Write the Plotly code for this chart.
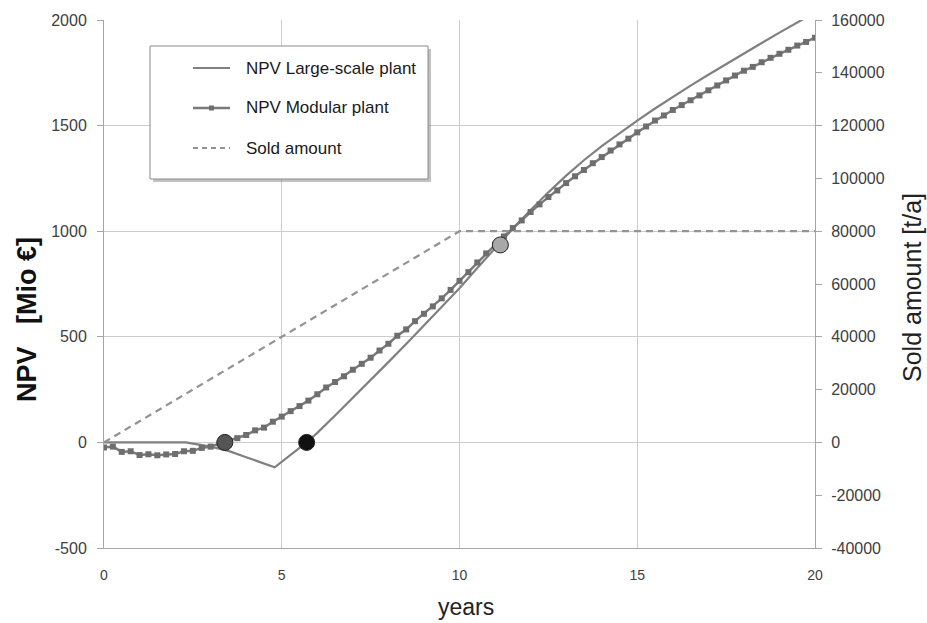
import plotly.graph_objects as go

# --- data -------------------------------------------------------------
# NPV of the modular plant, quarterly from year 0 to year 20 [Mio €]
modular_years = [i * 0.25 for i in range(81)]
modular_npv = [
    -24, -20, -45, -42, -60, -56, -61, -57, -55, -42, -40, -26,
    -20, -5, 8, 20, 35, 57, 70, 98, 122, 148, 172, 198,
    228, 260, 286, 313, 344, 372, 401, 435, 467, 505, 535, 574,
    609, 644, 682, 722, 765, 806, 852, 895, 935, 975, 1015, 1051,
    1091, 1127, 1162, 1193, 1228, 1260, 1290, 1322, 1351, 1382, 1411, 1438,
    1468, 1496, 1524, 1548, 1574, 1597, 1620, 1643, 1667, 1690, 1714, 1737,
    1760, 1778, 1800, 1821, 1840, 1859, 1879, 1896, 1916,
]

# NPV of the large-scale plant [Mio €]
large_years = [0, 2.3, 3.0, 3.5, 4.0, 4.5, 4.8, 5.7, 6.0, 6.5, 7.0, 7.5, 8.0,
               8.5, 9.0, 9.5, 10.0, 10.5, 11.0, 11.5, 12.0, 12.5, 13.0, 13.5,
               14.0, 14.5, 15.0, 15.5, 16.0, 16.5, 17.0, 17.5, 18.0, 18.5,
               19.0, 19.5, 20.0]
large_npv = [0, 0, -20, -40, -70, -98, -118, 0, 45, 127, 210, 295, 380,
             466, 553, 641, 730, 826, 920, 1012, 1100, 1184, 1263, 1336,
             1403, 1465, 1524, 1581, 1636, 1689, 1741, 1792, 1842, 1891,
             1940, 1988, 2036]

# Sold amount [t/a]
sold_years = [0, 10, 20]
sold_amount = [0, 80000, 80000]

# Highlighted points (break-even / intersection)
point_years = [3.4, 5.7, 11.15]
point_npv = [0, 0, 935]
point_colors = ["#555555", "#111111", "#a8a8a8"]

legend_labels = ["NPV Large-scale plant", "NPV Modular plant", "Sold amount"]

x_ticks = [0, 5, 10, 15, 20]
y_ticks = [-500, 0, 500, 1000, 1500, 2000]
y2_ticks = list(range(-40000, 160001, 20000))

# --- layout geometry (pixels) ----------------------------------------
W, H = 927, 623
ML, MR, MT, MB = 104, 112, 20, 75
PW, PH = W - ML - MR, H - MT - MB


def px(x):
    return (x - ML) / PW


def py(y):
    return (H - MB - y) / PH


FONT = "Liberation Sans, Arial, sans-serif"
LINE = "#808080"
GRID = "#cccccc"
AXIS = "#a6a6a6"
TICKFONT = dict(family=FONT, size=16, color="#404040")

fig = go.Figure()

fig.add_trace(go.Scatter(
    x=sold_years, y=sold_amount, yaxis="y2", mode="lines",
    line=dict(color="#939393", width=2.2, dash="7px,5px"),
    name=legend_labels[2], showlegend=False))

fig.add_trace(go.Scatter(
    x=large_years, y=large_npv, mode="lines",
    line=dict(color=LINE, width=2.2),
    name=legend_labels[0], showlegend=False))

fig.add_trace(go.Scatter(
    x=modular_years, y=modular_npv, mode="lines+markers",
    line=dict(color="#7a7a7a", width=2.5),
    marker=dict(symbol="square", size=6, color="#6e6e6e"),
    name=legend_labels[1], showlegend=False))

fig.add_trace(go.Scatter(
    x=point_years, y=point_npv, mode="markers",
    marker=dict(size=16, color=point_colors,
                line=dict(color="#222222", width=1)),
    showlegend=False, hoverinfo="skip"))

fig.update_layout(
    width=W, height=H,
    margin=dict(l=ML, r=MR, t=MT, b=MB, pad=0),
    paper_bgcolor="white", plot_bgcolor="white",
    font=dict(family=FONT, color="#222222"),
    xaxis=dict(
        range=[0, 20], tickvals=x_ticks, showgrid=True, gridcolor=GRID,
        gridwidth=1, showline=True, linecolor=AXIS, linewidth=1,
        zeroline=False, ticks="", ticklabelstandoff=14,
        tickfont=dict(family=FONT, size=14, color="#404040"),
    ),
    yaxis=dict(
        range=[-500, 2000], tickvals=y_ticks,
        ticktext=[str(v) for v in y_ticks],
        showgrid=True, gridcolor=GRID,
        gridwidth=1, showline=True, linecolor=AXIS, linewidth=1,
        zeroline=False, ticks="outside", ticklen=6, tickcolor=AXIS,
        ticklabelstandoff=7, tickfont=TICKFONT,
    ),
    yaxis2=dict(
        range=[-40000, 160000], tickvals=y2_ticks,
        ticktext=[str(v) for v in y2_ticks], overlaying="y",
        side="right", showgrid=False, showline=True, linecolor=AXIS,
        linewidth=1, zeroline=False, ticks="outside", ticklen=6,
        tickcolor=AXIS, ticklabelstandoff=6, tickfont=TICKFONT,
    ),
)

# --- axis titles -----------------------------------------------------
annotations = [
    dict(xref="paper", yref="paper", x=px(466), y=py(607),
         xanchor="center", yanchor="middle", showarrow=False,
         text="years", font=dict(family=FONT, size=23, color="#222222")),
    dict(xref="paper", yref="paper", x=px(27), y=py(320),
         xanchor="center", yanchor="middle", showarrow=False,
         textangle=-90, text="<b>NPV   [Mio €]</b>",
         font=dict(family=FONT, size=27, color="#111111")),
    dict(xref="paper", yref="paper", x=px(912), y=py(288),
         xanchor="center", yanchor="middle", showarrow=False,
         textangle=-90, text="Sold amount [t/a]",
         font=dict(family=FONT, size=25, color="#222222")),
]

# --- legend box ------------------------------------------------------
box = dict(x0=150, y0=46, x1=428, y1=179)
shapes = [
    dict(type="rect", xref="paper", yref="paper", layer="above",
         x0=px(box["x0"] + 3), x1=px(box["x1"] + 3),
         y0=py(box["y1"] + 3), y1=py(box["y0"] + 3),
         fillcolor="rgba(120,120,120,0.45)", line=dict(width=0)),
    dict(type="rect", xref="paper", yref="paper", layer="above",
         x0=px(box["x0"]), x1=px(box["x1"]),
         y0=py(box["y1"]), y1=py(box["y0"]),
         fillcolor="white", line=dict(color="#8a8a8a", width=1)),
]
rows = [68, 108, 148]
styles = [
    dict(color=LINE, width=2.2),
    dict(color="#7a7a7a", width=2.5),
    dict(color="#939393", width=2.2, dash="5px,4px"),
]
for yy, st in zip(rows, styles):
    shapes.append(dict(type="line", xref="paper", yref="paper",
                       layer="above", x0=px(193), x1=px(230),
                       y0=py(yy), y1=py(yy), line=st))
shapes.append(dict(type="rect", xref="paper", yref="paper", layer="above",
                   x0=px(209), x1=px(214), y0=py(rows[1] + 2.5),
                   y1=py(rows[1] - 2.5), fillcolor="#6e6e6e",
                   line=dict(width=0)))

for yy, label in zip(rows, legend_labels):
    annotations.append(dict(
        xref="paper", yref="paper", x=px(244), y=py(yy),
        xanchor="left", yanchor="middle", showarrow=False, text=label,
        font=dict(family=FONT, size=17, color="#1a1a1a")))

fig.update_layout(shapes=shapes, annotations=annotations)

fig.write_html("out.html")
